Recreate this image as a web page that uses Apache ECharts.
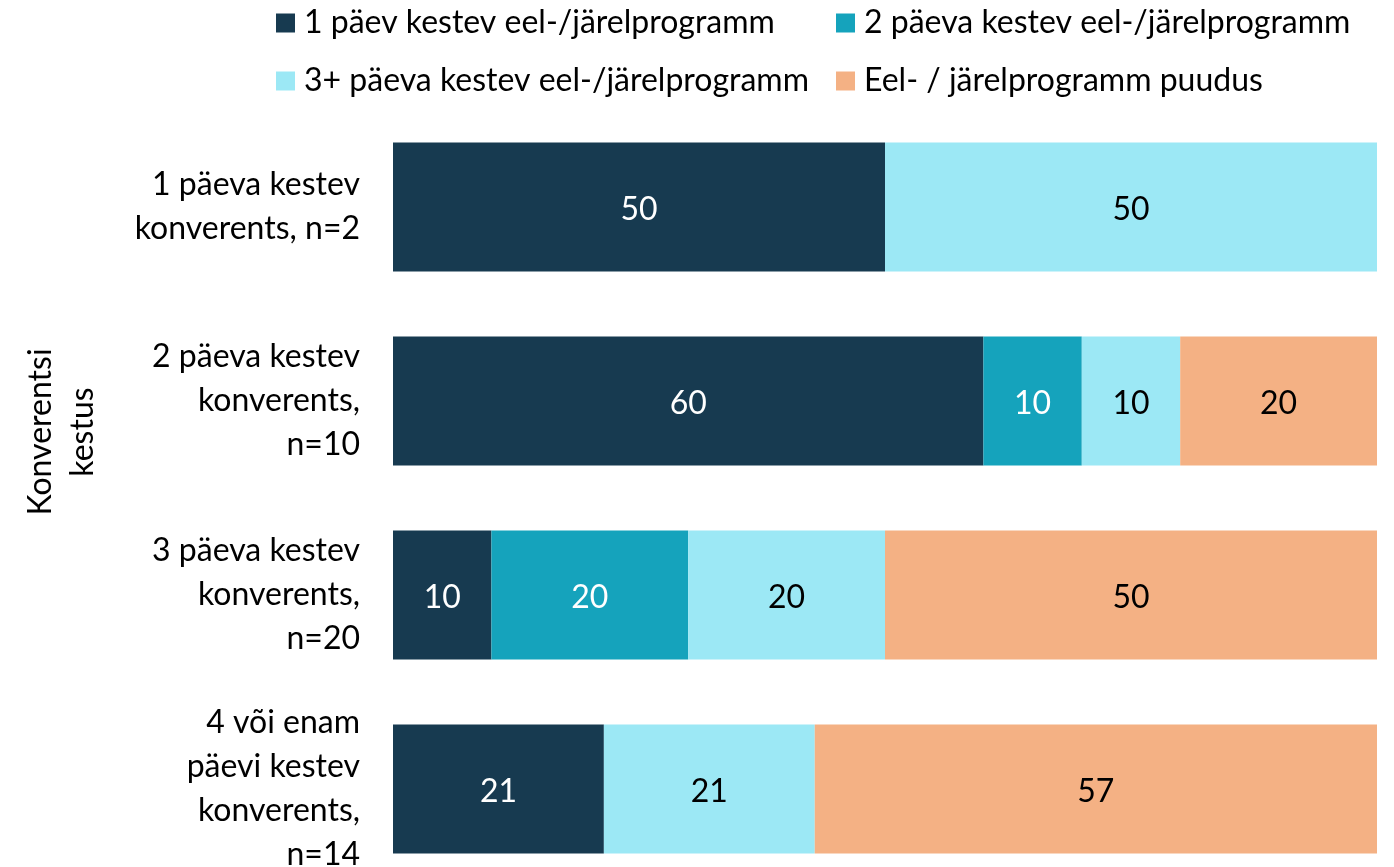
<!DOCTYPE html>
<html>
<head>
<meta charset="utf-8">
<script src="https://cdn.jsdelivr.net/npm/echarts@6/dist/echarts.min.js"></script>
<style>
    html, body { margin: 0; padding: 0; background: #fff; }
    #chart { width: 1394px; height: 867px; }
</style>
</head>
<body>
<div id="chart"></div>
<script>
    // categories (top to bottom)
    var categories = [
        '1 päeva kestev\nkonverents, n=2',
        '2 päeva kestev\nkonverents,\nn=10',
        '3 päeva kestev\nkonverents,\nn=20',
        '4 või enam\npäevi kestev\nkonverents,\nn=14'
    ];
    var seriesNames = [
        '1 päev kestev eel-/järelprogramm',
        '2 päeva kestev eel-/järelprogramm',
        '3+ päeva kestev eel-/järelprogramm',
        'Eel- / järelprogramm puudus'
    ];
    // percentages per category
    var oneDay   = [50, 60, 10, 21.43];
    var twoDay   = [0, 10, 20, 0];
    var threeDay = [50, 10, 20, 21.43];
    var none     = [0, 20, 50, 57.14];

    var colors = ['#173a50', '#15a3bc', '#9ce8f5', '#f4b184'];
    var labelColors = ['#fff', '#fff', '#000', '#000'];
    var font = 'Lato';
    var fs = 32;

    var values = [oneDay, twoDay, threeDay, none];
    var series = values.map(function (d, i) {
        return {
            name: seriesNames[i],
            type: 'bar',
            stack: 'total',
            barWidth: 129,
            data: d,
            itemStyle: { color: colors[i] },
            label: {
                show: true,
                position: 'inside',
                offset: [0, 3],
                color: labelColors[i],
                fontFamily: font,
                fontSize: fs,
                formatter: function (p) {
                    return p.value > 0 ? Math.round(p.value) : '';
                }
            },
            emphasis: { disabled: true }
        };
    });

    var legendBase = {
        orient: 'vertical',
        top: 2,
        itemWidth: 19,
        itemHeight: 19,
        itemGap: 26,
        icon: 'rect',
        selectedMode: false,
        textStyle: { fontSize: fs, color: '#000', fontFamily: font, padding: [0, 0, 0, 4] }
    };

    var chart = echarts.init(document.getElementById('chart'));
    chart.setOption({
        animation: false,
        textStyle: { fontFamily: font },
        legend: [
            Object.assign({}, legendBase, { data: [seriesNames[0], seriesNames[2]], left: 271 }),
            Object.assign({}, legendBase, { data: [seriesNames[1], seriesNames[3]], left: 831 })
        ],
        grid: {
            left: 393,
            right: 17,
            top: 110,
            height: 776,
            containLabel: false,
            outerBoundsMode: 'none'
        },
        xAxis: {
            type: 'value',
            min: 0,
            max: 100,
            show: false
        },
        yAxis: {
            type: 'category',
            inverse: true,
            data: categories,
            axisLine: { show: false },
            axisTick: { show: false },
            axisLabel: {
                margin: 33,
                fontSize: fs,
                lineHeight: 44,
                color: '#000',
                fontFamily: font,
                align: 'right'
            }
        },
        graphic: [{
            type: 'text',
            x: 62,
            y: 432,
            rotation: Math.PI / 2,
            style: {
                text: 'Konverentsi\nkestus',
                fontSize: fs,
                lineHeight: 42,
                fontFamily: font,
                fill: '#000',
                align: 'center',
                verticalAlign: 'middle'
            }
        }],
        series: series
    });
</script>
</body>
</html>
